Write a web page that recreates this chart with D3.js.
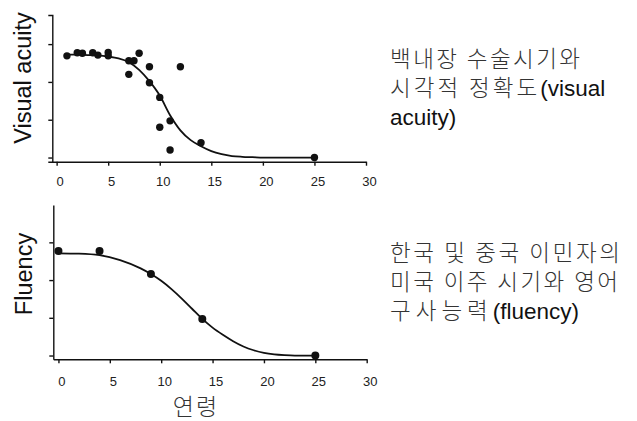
<!DOCTYPE html>
<html><head><meta charset="utf-8">
<script src="https://cdn.jsdelivr.net/npm/d3@7/dist/d3.min.js"></script>
<style>
html,body{margin:0;padding:0;background:#fff;}
svg{display:block;}
</style></head>
<body>
<script>
// ---------- data ----------
const xTicks = [0, 5, 10, 15, 20, 25, 30];
const yTicks = [0, 1, 2, 3];

// Visual acuity vs age at cataract surgery
const acuityX = [1, 2, 2.5, 3.5, 4, 5, 5, 7, 7.5, 8, 7, 9, 9, 10, 10, 11, 11, 12, 14, 25];
const acuityY = [2.69, 2.77, 2.76, 2.77, 2.71, 2.78, 2.69, 2.56, 2.56, 2.76, 2.20, 2.40, 1.98, 1.59, 0.80, 0.97, 0.20, 2.40, 0.39, 0.0];
const acuityFitX = [1, 2, 3, 4, 5, 6, 7, 8, 9, 10, 11, 12, 13, 14, 15, 16, 17, 18, 19, 20, 25];
const acuityFitY = [2.72, 2.72, 2.71, 2.70, 2.67, 2.62, 2.52, 2.32, 2.02, 1.64, 1.12, 0.72, 0.46, 0.30, 0.17, 0.09, 0.04, 0.02, 0.01, 0, 0];

// Fluency vs age of arrival
const fluencyX = [0, 4, 9, 14, 25];
const fluencyY = [2.77, 2.77, 2.16, 0.97, 0.0];
const fluencyFitX = [0, 2, 4, 6, 8, 9, 10, 11, 12, 13, 14, 15, 16, 17, 18, 19, 20, 21, 22, 23, 25];
const fluencyFitY = [2.71, 2.70, 2.66, 2.53, 2.31, 2.16, 1.98, 1.76, 1.51, 1.24, 0.97, 0.74, 0.55, 0.38, 0.24, 0.14, 0.07, 0.03, 0.01, 0, 0];

const yLabels = ["Visual acuity", "Fluency"];
const xLabel = "연령";
const noteTop = [["백내장 수술시기와", ""], ["시각적 정확도", "(visual"], ["", "acuity)"]];
const noteBottom = [["한국 및 중국 이민자의", ""], ["미국 이주 시기와 영어", ""], ["구사능력", "(fluency)"]];

// ---------- drawing ----------
const W = 637, H = 421;
const svg = d3.select("body").append("svg").attr("width", W).attr("height", H);
svg.append("rect").attr("width", W).attr("height", H).attr("fill", "#fff");

const ink = "#111";

function panel(cfg) {
  const x = d3.scaleLinear().domain(cfg.xDom).range(cfg.xRange);
  const y = d3.scaleLinear().domain(cfg.yDom).range(cfg.yRange);
  const g = svg.append("g");

  const gx = g.append("g")
    .attr("transform", `translate(0,${cfg.yRange[0]})`)
    .call(d3.axisBottom(x).tickValues(xTicks).tickSize(4).tickSizeOuter(0).tickPadding(cfg.xPad));
  gx.selectAll("text").attr("dx", 3).style("font-family", "'Liberation Sans', Arial, sans-serif")
    .style("font-size", "13px").attr("fill", "#222");

  g.append("g")
    .attr("transform", `translate(${cfg.xRange[0]},0)`)
    .call(d3.axisLeft(y).tickValues(yTicks).tickSize(4).tickSizeOuter(cfg.outer).tickFormat(""));

  g.selectAll(".domain, .tick line").attr("stroke", ink).attr("stroke-width", 1.4);

  const fit = cfg.fitX.map((v, i) => [v, cfg.fitY[i]]);
  g.append("path")
    .datum(fit)
    .attr("fill", "none").attr("stroke", ink).attr("stroke-width", 1.8)
    .attr("d", d3.line().x(d => x(d[0])).y(d => y(d[1])).curve(d3.curveMonotoneX));

  g.selectAll("circle.pt")
    .data(cfg.px.map((v, i) => [v, cfg.py[i]]))
    .join("circle").attr("class", "pt")
    .attr("cx", d => x(d[0])).attr("cy", d => y(d[1]))
    .attr("r", cfg.r).attr("fill", ink);

  g.append("text")
    .attr("transform", `translate(${cfg.labX},${cfg.labY}) rotate(-90)`)
    .attr("text-anchor", "middle").attr("dominant-baseline", "central")
    .style("font-family", "'Liberation Sans', Arial, sans-serif")
    .style("font-size", "23.5px").attr("fill", ink)
    .text(cfg.label);
}

panel({
  xDom: [-0.42, 30], xRange: [52.3, 366],
  yDom: [-0.11, 3.77], yRange: [161.7, 15],
  fitX: acuityFitX, fitY: acuityFitY, px: acuityX, py: acuityY,
  r: 3.7, outer: 4, xPad: 11, label: yLabels[0], labX: 23, labY: 78
});
panel({
  xDom: [-0.5, 30], xRange: [53.3, 366.7],
  yDom: [-0.1, 3.99], yRange: [359.3, 205],
  fitX: fluencyFitX, fitY: fluencyFitY, px: fluencyX, py: fluencyY,
  r: 4, outer: 0, xPad: 13.5, label: yLabels[1], labX: 24, labY: 274
});

// x label
svg.append("text")
  .attr("x", 196).attr("y", 415)
  .attr("text-anchor", "middle")
  .style("font-family", "'Noto Sans CJK KR', sans-serif")
  .style("font-size", "23px").style("font-weight", 300).style("letter-spacing", "2px")
  .attr("fill", "#333")
  .text(xLabel);

// notes: fit[i] = {w: textLength for Korean-only lines, ls: letter-spacing for mixed lines}
function note(lines, x0, baselines, fit) {
  lines.forEach((ln, i) => {
    const t = svg.append("text").attr("x", x0).attr("y", baselines[i]);
    const f = fit[i];
    if (ln[0]) {
      const k = t.append("tspan")
        .style("font-family", "'Noto Sans CJK KR', sans-serif")
        .style("font-size", "22.5px").style("font-weight", 300).attr("fill", "#333")
        .text(ln[0]);
      if (f.w) k.attr("textLength", f.w).attr("lengthAdjust", "spacing");
      if (f.ls) k.style("letter-spacing", f.ls + "px");
    }
    if (ln[1]) t.append("tspan")
      .style("font-family", "'Liberation Sans', Arial, sans-serif")
      .style("font-size", "22.5px").attr("fill", "#111")
      .text(ln[1]);
  });
}
note(noteTop, 390, [67, 96, 125], [{w: 190}, {ls: 3}, {}]);
note(noteBottom, 390, [261, 290, 319], [{w: 230}, {w: 228}, {ls: 5}]);
</script>
</body></html>
